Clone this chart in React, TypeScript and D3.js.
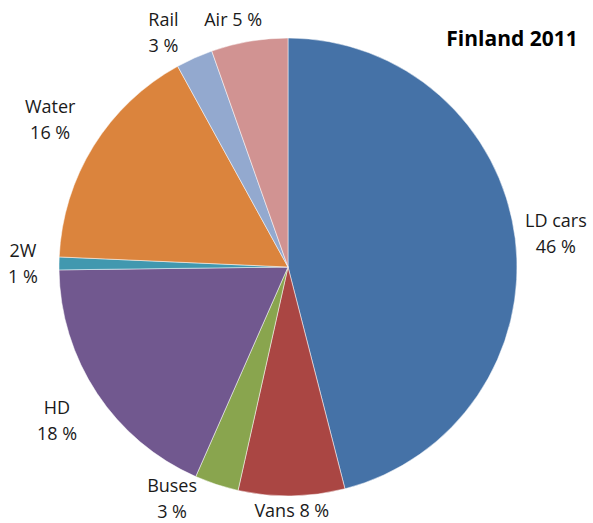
import React from "react";
import * as d3 from "d3";

const categories = ["LD cars", "Vans", "Buses", "HD", "2W", "Water", "Rail", "Air"];
const values = [46.0, 7.5, 3.1, 18.2, 0.9, 16.3, 2.6, 5.4];
const labelLines = [
  ["LD cars", "46 %"],
  ["Vans 8 %"],
  ["Buses", "3 %"],
  ["HD", "18 %"],
  ["2W", "1 %"],
  ["Water", "16 %"],
  ["Rail", "3 %"],
  ["Air 5 %"],
];
const colors = ["#4572A7", "#AA4643", "#89A54E", "#71588F", "#4198AF", "#DB843D", "#93A9CF", "#D19392"];
const title = "Finland 2011";

// layout: label distance from the pie centre (best-fit style placement)
const labelRadius = [270, 243, 258, 277, 265, 280, 266, 254];

const W = 593;
const H = 523;
const cx = 288;
const cy = 267;
const R = 229;
const LH = 26;
const TOP_LINE_MIN = 19;
const BOTTOM_LINE_MAX = 510.5;

export default function App() {
  const data = categories.map((c, i) => ({ c, v: values[i], i }));
  const pie = d3.pie<any>().value((d) => d.v).sort(null);
  const arcs = pie(data);
  const arc = d3.arc<any>().innerRadius(0).outerRadius(R);
  const font = "'Open Sans', sans-serif";
  return (
    <svg
      width={W}
      height={H}
      style={{ position: "absolute", left: 0, top: 0, background: "#fff" }}
    >
      <g>
        {arcs.map((a, i) => (
          <path
            key={i}
            transform={`translate(${cx},${cy})`}
            d={arc(a) as string}
            fill={colors[i]}
            stroke="#fff"
            strokeWidth={0.5}
          />
        ))}
        {arcs.map((a, i) => {
          const lines = labelLines[i];
          const lr = labelRadius[i];
          const mid = (a.startAngle + a.endAngle) / 2;
          let dx = Math.sin(mid) * lr;
          let dy = -Math.cos(mid) * lr;
          const half = ((lines.length - 1) / 2) * LH;
          const minDy = TOP_LINE_MIN + half - cy;
          const maxDy = BOTTOM_LINE_MAX - half - cy;
          if (dy < minDy || dy > maxDy) {
            dy = Math.max(minDy, Math.min(maxDy, dy));
            dx = Math.sign(dx) * Math.sqrt(Math.max(0, lr * lr - dy * dy));
          }
          const x = cx + dx;
          const y = cy + dy;
          return (
            <text
              key={"l" + i}
              x={x}
              y={y}
              textAnchor="middle"
              fontFamily={font}
              fontSize={18}
              fill="#1a1a1a"
            >
              {lines.map((t, j) => (
                <tspan
                  key={j}
                  x={x}
                  y={y + (j - (lines.length - 1) / 2) * LH}
                  dominantBaseline="central"
                >
                  {t}
                </tspan>
              ))}
            </text>
          );
        })}
      </g>
      <text
        x={512}
        y={38}
        textAnchor="middle"
        dominantBaseline="central"
        fontFamily={font}
        fontWeight="bold"
        fontSize={21}
        fill="#000"
      >
        {title}
      </text>
    </svg>
  );
}
